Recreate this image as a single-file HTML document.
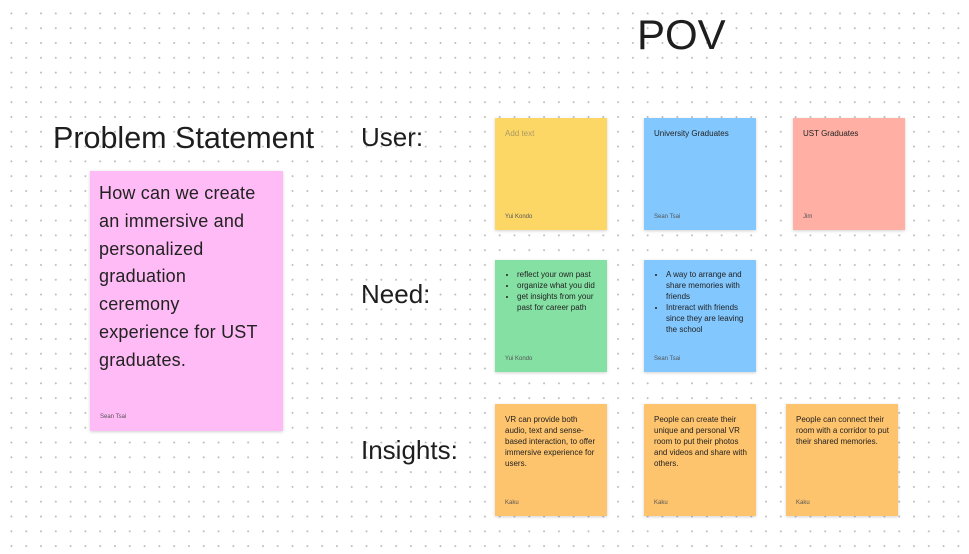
<!DOCTYPE html>
<html><head><style>
body{margin:0;width:969px;height:554px;overflow:hidden;background-color:#fff;
background-image:radial-gradient(circle,#bdbdbd 0.8px,transparent 1.1px);
background-size:14.8px 14.8px;background-position:4px 6px;
font-family:"Liberation Sans",sans-serif;position:relative;color:#1e1e1e}
.t{position:absolute;white-space:nowrap}
.n{position:absolute;box-shadow:0 1px 3px rgba(0,0,0,.18);box-sizing:border-box;padding:10px 9px 0 10px;font-size:8px;line-height:11px;color:#222}
.n .a{position:absolute;left:10px;bottom:9px;font-size:6px;line-height:8px;color:#555;letter-spacing:0}
ul{margin:0;padding-left:12px}
</style></head><body>
<div class="t" style="left:637px;top:11px;font-size:42px">POV</div>
<div class="t" style="left:53px;top:121px;font-size:30.5px">Problem Statement</div>
<div class="t" style="left:361px;top:122px;font-size:26px">User:</div>
<div class="t" style="left:361px;top:279px;font-size:26px">Need:</div>
<div class="t" style="left:361px;top:435px;font-size:26px">Insights:</div>

<div class="n" style="left:90px;top:171px;width:193px;height:260px;background:#ffbbf5;font-size:18px;line-height:27.8px;padding:9px 20px 9px 9px;letter-spacing:0.2px">How can we create an immersive and personalized graduation ceremony experience for UST graduates.<div class="a" style="bottom:10px">Sean Tsai</div></div>

<div class="n" style="left:495px;top:118px;width:112px;height:112px;background:#fdd766;color:#a89a60">Add text<div class="a">Yui Kondo</div></div>
<div class="n" style="left:644px;top:118px;width:112px;height:112px;background:#82c7fe">University Graduates<div class="a">Sean Tsai</div></div>
<div class="n" style="left:793px;top:118px;width:112px;height:112px;background:#ffafa3">UST Graduates<div class="a">Jim</div></div>

<div class="n" style="left:495px;top:260px;width:112px;height:112px;background:#85e0a3;padding-top:9px"><ul><li>reflect your own past</li><li>organize what you did</li><li>get insights from your past for career path</li></ul><div class="a">Yui Kondo</div></div>
<div class="n" style="left:644px;top:260px;width:112px;height:112px;background:#82c7fe;padding-top:9px"><ul><li>A way to arrange and share memories with friends</li><li>Intreract with friends since they are leaving the school</li></ul><div class="a">Sean Tsai</div></div>

<div class="n" style="left:495px;top:404px;width:112px;height:112px;background:#fec46d">VR can provide both audio, text and sense-based interaction, to offer immersive experience for users.<div class="a">Kaku</div></div>
<div class="n" style="left:644px;top:404px;width:112px;height:112px;background:#fec46d">People can create their unique and personal VR room to put their photos and videos and share with others.<div class="a">Kaku</div></div>
<div class="n" style="left:786px;top:404px;width:112px;height:112px;background:#fec46d">People can connect their room with a corridor to put their shared memories.<div class="a">Kaku</div></div>
</body></html>
